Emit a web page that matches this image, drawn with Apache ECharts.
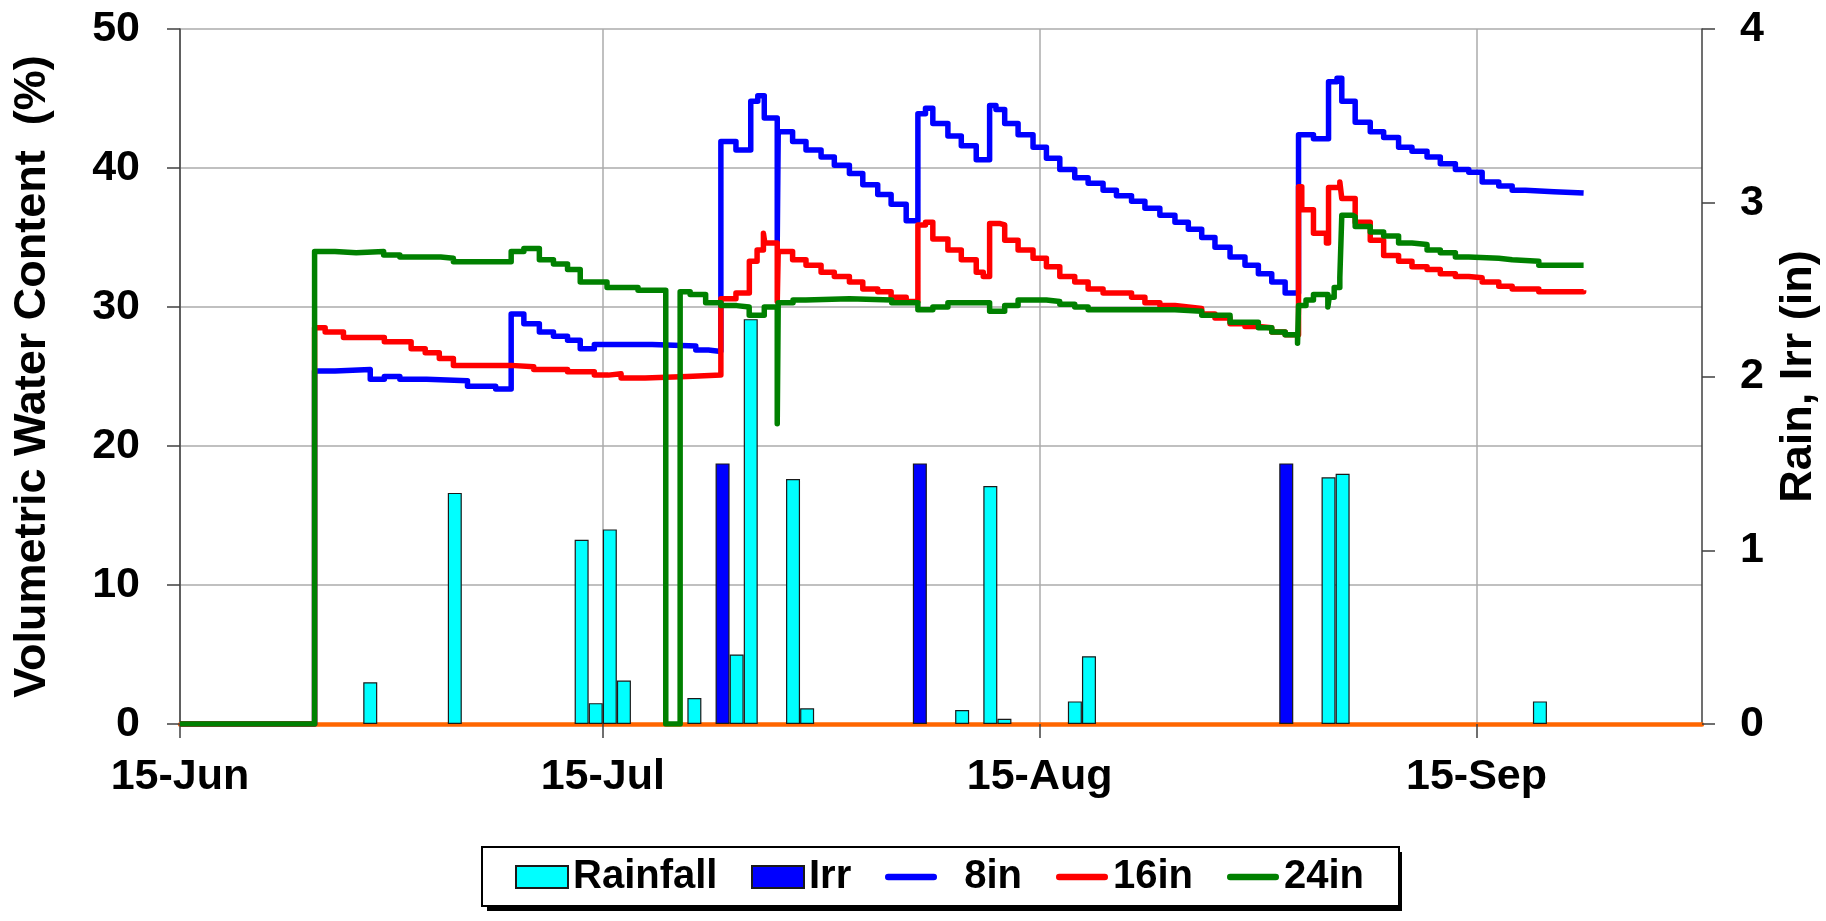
<!DOCTYPE html>
<html>
<head>
<meta charset="utf-8">
<title>Soil water content</title>
<script src="https://cdn.jsdelivr.net/npm/echarts@6/dist/echarts.min.js"></script>
<style>
  html, body { margin: 0; padding: 0; background: #fff; }
  #chart { width: 1826px; height: 921px; }
</style>
</head>
<body>
<div id="chart"></div>
<script>
  // x values are days counted from 15-Jun
  const tickDays = [0, 30, 61, 92];
  const tickLabels = ['15-Jun', '15-Jul', '15-Aug', '15-Sep'];

  // daily rain / irrigation, inches
  const rainDays = [13, 19, 28, 29, 30, 31, 36, 39, 40, 43, 44, 55, 57, 58, 63, 64, 81, 82, 96];
  const rainIn = [0.24, 1.33, 1.06, 0.12, 1.12, 0.25, 0.15, 0.40, 2.33, 1.41, 0.09, 0.08, 1.37, 0.03, 0.13, 0.39, 1.42, 1.44, 0.13];
  const irrDays = [38, 52, 78];
  const irrIn = [1.5, 1.5, 1.5];

  // volumetric water content (%), [day, value], value holds until next point
  const vwc8 = [
    [0, 0], [9.55, 25.4], [11.0, 25.5], [13.5, 24.8], [14.5, 25.0], [15.6, 24.8], [17.5, 24.7],
    [20.4, 24.3], [22.4, 24.1], [23.5, 29.5], [24.4, 28.8], [25.5, 28.2], [26.5, 27.9], [27.5, 27.6],
    [28.4, 27.0], [29.4, 27.3], [33.5, 27.2], [36.6, 26.9], [37.5, 26.8], [38.38, 41.9], [39.45, 41.3],
    [40.5, 44.8], [41.0, 45.2], [41.46, 43.6], [42.38, 34.7], [42.45, 42.6], [43.47, 41.9], [44.42, 41.3],
    [45.49, 40.8], [46.43, 40.2], [47.5, 39.6], [48.45, 38.8], [49.51, 38.1], [50.46, 37.4], [51.53, 36.2],
    [52.36, 43.9], [52.9, 44.3], [53.42, 43.2], [54.49, 42.3], [55.44, 41.6], [56.5, 40.6], [57.45, 44.5],
    [57.9, 44.2], [58.52, 43.2], [59.47, 42.4], [60.53, 41.5], [61.48, 40.7], [62.43, 39.9], [63.49, 39.3],
    [64.44, 38.9], [65.5, 38.4], [66.45, 38.0], [67.52, 37.6], [68.47, 37.1], [69.53, 36.6], [70.6, 36.1],
    [71.55, 35.6], [72.5, 35.0], [73.44, 34.3], [74.51, 33.6], [75.57, 33.0], [76.52, 32.4], [77.47, 31.8],
    [78.42, 31.0], [79.37, 42.4], [80.43, 42.1], [81.5, 46.2], [82.1, 46.45], [82.44, 44.8], [83.39, 43.3],
    [84.46, 42.6], [85.41, 42.2], [86.47, 41.5], [87.42, 41.2], [88.49, 40.8], [89.43, 40.3], [90.5, 39.9],
    [91.45, 39.7], [92.4, 39.0], [93.58, 38.7], [94.53, 38.4], [95.47, 38.3], [97.49, 38.2], [99.6, 38.2]
  ];
  const vwc16 = [
    [0, 0], [9.55, 28.5], [10.3, 28.2], [11.6, 27.8], [14.5, 27.5], [16.4, 27.0], [17.4, 26.7],
    [18.4, 26.3], [19.4, 25.8], [23.5, 25.7], [25.1, 25.5], [27.5, 25.35], [29.4, 25.1], [30.4, 25.2],
    [31.3, 24.9], [33.0, 25.0], [36.0, 25.1], [38.38, 30.6], [39.45, 31.0], [40.4, 33.3], [40.95, 34.1],
    [41.4, 35.3], [41.5, 34.6], [42.38, 30.4], [42.45, 34.0], [43.47, 33.4], [44.42, 33.0], [45.49, 32.5],
    [46.43, 32.2], [47.5, 31.8], [48.45, 31.3], [49.51, 31.1], [50.46, 30.7], [51.53, 30.4], [52.36, 35.9],
    [52.9, 36.1], [53.42, 34.9], [54.49, 34.1], [55.44, 33.4], [56.5, 32.5], [57.0, 32.2], [57.45, 36.0],
    [58.2, 35.9], [58.52, 34.8], [59.47, 34.1], [60.53, 33.5], [61.48, 32.9], [62.43, 32.2], [63.49, 31.8],
    [64.44, 31.3], [65.5, 31.0], [67.52, 30.7], [68.47, 30.3], [69.53, 30.1], [70.6, 30.0], [71.55, 29.9],
    [72.5, 29.5], [73.44, 29.2], [74.51, 28.8], [75.57, 28.6], [76.52, 28.5], [77.47, 28.2], [78.42, 28.0],
    [79.37, 38.65], [79.6, 37.0], [80.43, 35.3], [81.35, 34.6], [81.5, 38.6], [82.3, 39.0], [82.44, 37.8],
    [83.39, 36.1], [84.46, 34.8], [85.41, 33.7], [86.47, 33.3], [87.42, 32.9], [88.49, 32.7], [89.43, 32.4],
    [90.5, 32.2], [91.45, 32.1], [92.4, 31.8], [93.58, 31.5], [94.53, 31.3], [96.42, 31.1], [99.6, 31.2]
  ];
  const vwc24 = [
    [0, 0], [9.55, 34.0], [11.0, 33.9], [12.5, 34.0], [14.45, 33.75], [15.6, 33.6], [18.5, 33.5],
    [19.4, 33.25], [23.5, 34.0], [24.4, 34.2], [25.5, 33.4], [26.5, 33.1], [27.5, 32.7], [28.4, 31.8],
    [30.3, 31.4], [32.5, 31.2], [34.47, 0], [35.49, 31.1], [36.2, 30.9], [37.3, 30.3], [38.38, 30.1],
    [39.5, 30.0], [40.39, 29.4], [41.46, 30.0], [42.38, 21.6], [42.45, 30.3], [43.5, 30.5], [44.4, 30.6],
    [47.5, 30.5], [50.5, 30.3], [52.36, 29.8], [53.42, 30.0], [54.49, 30.3], [57.45, 29.7], [58.52, 30.1],
    [59.47, 30.5], [61.48, 30.4], [62.43, 30.2], [63.49, 30.0], [64.44, 29.8], [70.6, 29.7], [72.5, 29.4],
    [74.51, 28.9], [76.52, 28.5], [77.47, 28.2], [78.42, 28.0], [79.3, 27.4], [79.37, 30.1], [79.9, 30.5],
    [80.43, 30.9], [81.45, 30.0], [81.55, 30.7], [81.9, 31.4], [82.3, 32.1], [82.44, 36.6], [83.2, 36.5],
    [83.39, 35.8], [84.46, 35.4], [85.41, 35.1], [86.47, 34.6], [87.42, 34.5], [88.49, 34.1], [89.43, 33.9],
    [90.5, 33.6], [91.45, 33.5], [93.58, 33.4], [94.53, 33.3], [96.42, 33.0], [99.6, 33.0]
  ];

  const font = 'Liberation Sans, Arial, sans-serif';
  const axisColor = '#404040';
  // short rounded bar used as the legend mark of the line series
  const lineIcon = 'path://M3.5,0 L52.5,0 A3.5,3.5 0 0 1 52.5,7 L3.5,7 A3.5,3.5 0 0 1 3.5,0 Z';

  // legend box: fixed text widths so the box size is known for the drop shadow
  const legendBox = { left: 482, top: 847, width: 915, height: 59 };
  const legendText = w => ({ width: w, fontFamily: font, fontSize: 40, fontWeight: 'bold', color: '#000', lineHeight: 40 });

  let myChart = echarts.init(document.getElementById('chart'));
  let option = {
    animation: false,
    backgroundColor: '#fff',
    textStyle: { fontFamily: font },
    grid: { left: 180, right: 124, top: 29, bottom: 197, outerBoundsMode: 'none' },
    graphic: [
      {
        type: 'rect',
        z: 1,
        left: legendBox.left + 5,
        top: legendBox.top + 5,
        shape: { width: legendBox.width, height: legendBox.height },
        style: { fill: '#000' }
      }
    ],
    legend: {
      left: legendBox.left,
      top: legendBox.top,
      padding: [10, 33, 9, 33],
      itemGap: 32,
      itemWidth: 52,
      itemHeight: 22,
      symbolKeepAspect: true,
      backgroundColor: '#fff',
      borderColor: '#000',
      borderWidth: 2,
      textStyle: legendText(null),
      formatter: name => (name === '8in' ? '  8in' : name),
      data: [
        { name: 'Rainfall', icon: 'rect', textStyle: legendText(146) },
        { name: 'Irr', icon: 'rect', textStyle: legendText(44) },
        { name: '8in', icon: lineIcon, textStyle: legendText(82) },
        { name: '16in', icon: lineIcon, textStyle: legendText(82) },
        { name: '24in', icon: lineIcon, textStyle: legendText(82) }
      ]
    },
    xAxis: {
      type: 'value',
      min: 0,
      max: 108,
      axisLine: { show: true, lineStyle: { color: '#ff6600', width: 4.5 } },
      axisTick: { show: true, inside: false, length: 14, customValues: tickDays, lineStyle: { color: axisColor, width: 1.5 } },
      axisLabel: {
        customValues: tickDays,
        margin: 32,
        fontSize: 43,
        fontWeight: 'bold',
        color: '#000',
        fontFamily: font,
        formatter: v => tickLabels[tickDays.indexOf(v)]
      },
      splitLine: { show: true, lineStyle: { color: '#ababab', width: 1.5 } }
    },
    yAxis: [
      {
        type: 'value',
        min: 0,
        max: 50,
        interval: 10,
        name: 'Volumetric Water Content  (%)',
        nameLocation: 'middle',
        nameGap: 125,
        nameMoveOverlap: false,
        nameTextStyle: { fontSize: 45, fontWeight: 'bold', color: '#000', fontFamily: font },
        axisLine: { show: true, lineStyle: { color: axisColor, width: 1.5 } },
        axisTick: { show: true, inside: false, length: 13, lineStyle: { color: axisColor, width: 1.5 } },
        axisLabel: { margin: 40, fontSize: 43, fontWeight: 'bold', color: '#000', fontFamily: font },
        splitLine: { show: true, lineStyle: { color: '#ababab', width: 1.5 } }
      },
      {
        type: 'value',
        min: 0,
        max: 4,
        interval: 1,
        name: 'Rain, Irr (in)',
        nameLocation: 'middle',
        nameGap: 74,
        nameMoveOverlap: false,
        nameTextStyle: { fontSize: 45, fontWeight: 'bold', color: '#000', fontFamily: font },
        axisLine: { show: true, lineStyle: { color: axisColor, width: 1.5 } },
        axisTick: { show: true, inside: false, length: 13, lineStyle: { color: axisColor, width: 1.5 } },
        axisLabel: { margin: 38, fontSize: 43, fontWeight: 'bold', color: '#000', fontFamily: font },
        splitLine: { show: false }
      }
    ],
    series: [
      {
        name: 'Rainfall',
        type: 'bar',
        yAxisIndex: 1,
        barWidth: 14,
        barGap: '-100%',
        itemStyle: { color: '#00ffff', borderColor: '#1a1a1a', borderWidth: 1.2 },
        data: rainDays.map((d, i) => [d + 0.5, rainIn[i]])
      },
      {
        name: 'Irr',
        type: 'bar',
        yAxisIndex: 1,
        barWidth: 14,
        barGap: '-100%',
        itemStyle: { color: '#0000ff', borderColor: '#1a1a1a', borderWidth: 1.2 },
        data: irrDays.map((d, i) => [d + 0.5, irrIn[i]])
      },
      {
        name: '8in',
        type: 'line',
        step: 'end',
        symbol: 'none',
        color: '#0000ff',
        lineStyle: { width: 5.5, join: 'round' },
        data: vwc8
      },
      {
        name: '16in',
        type: 'line',
        step: 'end',
        symbol: 'none',
        color: '#ff0000',
        lineStyle: { width: 5.5, join: 'round' },
        data: vwc16
      },
      {
        name: '24in',
        type: 'line',
        step: 'end',
        symbol: 'none',
        color: '#008000',
        lineStyle: { width: 5.5, join: 'round' },
        data: vwc24
      }
    ]
  };
  myChart.setOption(option);
</script>
</body>
</html>
